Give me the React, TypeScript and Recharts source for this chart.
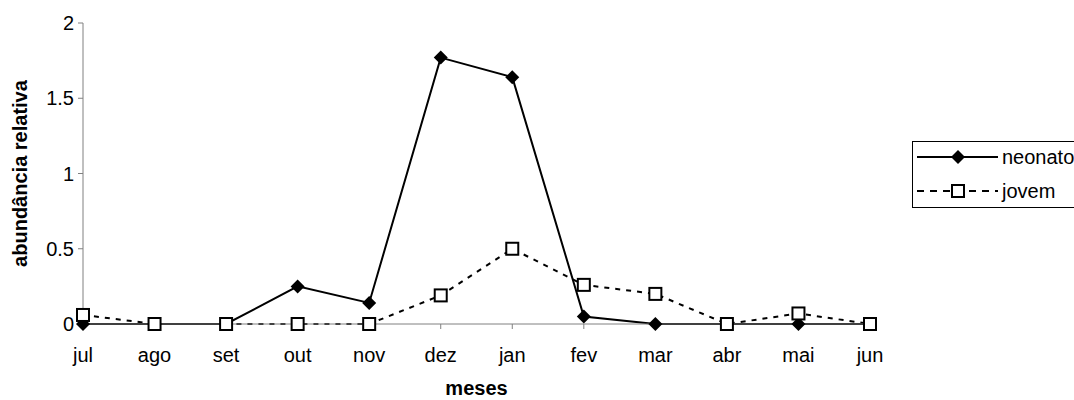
import React from "react";
import {
  LineChart,
  Line,
  XAxis,
  YAxis,
} from "recharts";

const months = ["jul", "ago", "set", "out", "nov", "dez", "jan", "fev", "mar", "abr", "mai", "jun"];
const neonato = [0, 0, 0, 0.25, 0.14, 1.77, 1.64, 0.05, 0, 0, 0, 0];
const jovem = [0.06, 0, 0, 0, 0, 0.19, 0.5, 0.26, 0.2, 0, 0.07, 0];
const yTicks = [0, 0.5, 1, 1.5, 2];

const data = months.map((m, i) => ({ mes: m, neonato: neonato[i], jovem: jovem[i] }));

const FONT = "Arial, 'Liberation Sans', sans-serif";
const AXIS = "#808080";

const DiamondDot = (props: any) => {
  const { cx, cy, index } = props;
  if (cx == null || cy == null) return null;
  const r = 7;
  return (
    <polygon
      key={"d" + index}
      points={`${cx},${cy - r} ${cx + r},${cy} ${cx},${cy + r} ${cx - r},${cy}`}
      fill="#000"
    />
  );
};

const SquareDot = (props: any) => {
  const { cx, cy, index } = props;
  if (cx == null || cy == null) return null;
  return (
    <rect
      key={"s" + index}
      x={cx - 6}
      y={cy - 6}
      width={12}
      height={12}
      fill="#fff"
      stroke="#000"
      strokeWidth={2}
    />
  );
};

// legend drawn as an overlay so it doesn't eat into the plot area
const LegendBox = () => (
  <svg width={162} height={67} style={{ display: "block" }}>
    <rect x={0.5} y={0.5} width={175} height={66} fill="#fff" stroke="#000" strokeWidth={1} />
    <line x1={5} y1={16} x2={86} y2={16} stroke="#000" strokeWidth={2} />
    <polygon points="46,9 53,16 46,23 39,16" fill="#000" />
    <text x={90} y={23} fontFamily={FONT} fontSize={20} fill="#000">neonato</text>
    <line x1={5} y1={50} x2={86} y2={50} stroke="#000" strokeWidth={2} strokeDasharray="7 6" />
    <rect x={40} y={44} width={12} height={12} fill="#fff" stroke="#000" strokeWidth={2} />
    <text x={90} y={57} fontFamily={FONT} fontSize={20} fill="#000">jovem</text>
  </svg>
);

const YLabel = (props: any) => {
  const { viewBox } = props;
  const cy = viewBox.y + viewBox.height / 2;
  return (
    <text
      x={27}
      y={cy}
      transform={`rotate(-90, 27, ${cy})`}
      textAnchor="middle"
      fontFamily={FONT}
      fontSize={20}
      fontWeight="bold"
      fill="#000"
    >
      abundância relativa
    </text>
  );
};

const XLabel = (props: any) => {
  const { viewBox } = props;
  return (
    <text
      x={viewBox.x + viewBox.width / 2}
      y={395}
      textAnchor="middle"
      fontFamily={FONT}
      fontSize={20}
      fontWeight="bold"
      fill="#000"
    >
      meses
    </text>
  );
};

export default function App() {
  return (
    <div style={{ position: "absolute", left: 0, top: 0, width: 1074, height: 400, background: "#fff", overflow: "hidden" }}>
      <LineChart
        width={1074}
        height={400}
        data={data}
        margin={{ top: 23, right: 204, bottom: 36, left: 23 }}
      >
        <XAxis
          dataKey="mes"
          stroke={AXIS}
          tickSize={5}
          tickMargin={19}
          tick={{ fill: "#000", fontSize: 20, fontFamily: FONT }}
          height={40}
          interval={0}
          label={<XLabel />}
        />
        <YAxis
          domain={[0, 2]}
          ticks={yTicks}
          stroke={AXIS}
          tickSize={5}
          tickMargin={4}
          width={60}
          tick={{ fill: "#000", fontSize: 20, fontFamily: FONT }}
          label={<YLabel />}
        />
        <Line
          dataKey="neonato"
          stroke="#000"
          strokeWidth={2}
          dot={<DiamondDot />}
          isAnimationActive={false}
        />
        <Line
          dataKey="jovem"
          stroke="#000"
          strokeWidth={2}
          strokeDasharray="5 6"
          dot={<SquareDot />}
          isAnimationActive={false}
        />
      </LineChart>
      <div style={{ position: "absolute", left: 912, top: 141 }}>
        <LegendBox />
      </div>
    </div>
  );
}
